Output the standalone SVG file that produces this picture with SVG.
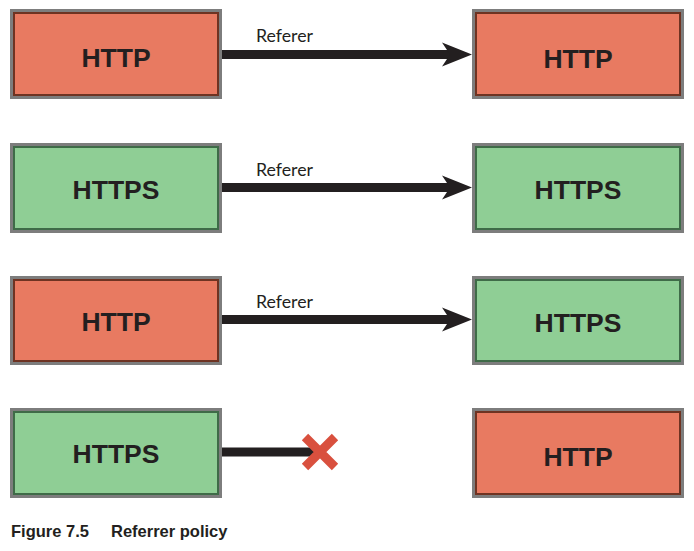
<svg xmlns="http://www.w3.org/2000/svg" width="694" height="551" viewBox="0 0 694 551">
<style>
.outer{fill:none;stroke:#7d7d7d;stroke-width:3}
.red{fill:#e87a61;stroke:#6e3322;stroke-width:2}
.green{fill:#8fce95;stroke:#3f6b48;stroke-width:2}
.lbl{font-family:"Liberation Sans",Arial,sans-serif;font-weight:bold;font-size:26.5px;fill:#231f20;text-anchor:middle}
.ref{font-family:Lato,"Liberation Sans",sans-serif;font-size:17px;fill:#231f20}
.line{stroke:#231f20;stroke-width:9;fill:none}
.head{fill:#231f20}
.cap{font-family:"Liberation Sans",Arial,sans-serif;font-weight:bold;font-size:16.5px;fill:#231f20}
</style>
<rect width="694" height="551" fill="#ffffff"/>
<g id="n1"><rect class="outer" x="11.5" y="10.5" width="209" height="87"/><rect class="red" x="14" y="13" width="204" height="82"/><text class="lbl" x="116" y="67">HTTP</text></g>
<g id="n2"><rect class="outer" x="473.5" y="10.5" width="209" height="87"/><rect class="red" x="476" y="13" width="204" height="82"/><text class="lbl" x="578" y="68">HTTP</text></g>
<g id="n3"><rect class="outer" x="11.5" y="144.5" width="209" height="87"/><rect class="green" x="14" y="147" width="204" height="82"/><text class="lbl" x="116" y="199">HTTPS</text></g>
<g id="n4"><rect class="outer" x="473.5" y="144.5" width="209" height="87"/><rect class="green" x="476" y="147" width="204" height="82"/><text class="lbl" x="578" y="199">HTTPS</text></g>
<g id="n5"><rect class="outer" x="11.5" y="277.5" width="209" height="86"/><rect class="red" x="14" y="280" width="204" height="81"/><text class="lbl" x="116" y="331">HTTP</text></g>
<g id="n6"><rect class="outer" x="473.5" y="277.5" width="209" height="86"/><rect class="green" x="476" y="280" width="204" height="81"/><text class="lbl" x="578" y="332">HTTPS</text></g>
<g id="n7"><rect class="outer" x="11.5" y="409.5" width="209" height="87"/><rect class="green" x="14" y="412" width="204" height="82"/><text class="lbl" x="116" y="463">HTTPS</text></g>
<g id="n8"><rect class="outer" x="473.5" y="409.5" width="209" height="87"/><rect class="red" x="476" y="412" width="204" height="82"/><text class="lbl" x="578" y="466">HTTP</text></g>
<g id="connectors">
<line class="line" x1="222" y1="54.5" x2="452" y2="54.5"/><path class="head" d="M472,54.5 L442,42.5 L450,54.5 L442,66.5 Z"/>
<line class="line" x1="222" y1="187.5" x2="452" y2="187.5"/><path class="head" d="M472,187.5 L442,175.5 L450,187.5 L442,199.5 Z"/>
<line class="line" x1="222" y1="319.5" x2="452" y2="319.5"/><path class="head" d="M472,319.5 L442,307.5 L450,319.5 L442,331.5 Z"/>
<line class="line" x1="222" y1="452" x2="314" y2="452"/>
<path d="M305,437 L335,467 M335,437 L305,467" stroke="#d9503e" stroke-width="9" fill="none"/>
<text class="ref" x="256" y="42" textLength="57" lengthAdjust="spacingAndGlyphs">Referer</text>
<text class="ref" x="256" y="176" textLength="57" lengthAdjust="spacingAndGlyphs">Referer</text>
<text class="ref" x="256" y="308" textLength="57" lengthAdjust="spacingAndGlyphs">Referer</text>
</g>
<text class="cap" x="11" y="537">Figure 7.5</text>
<text class="cap" x="111" y="537">Referrer policy</text>
</svg>
